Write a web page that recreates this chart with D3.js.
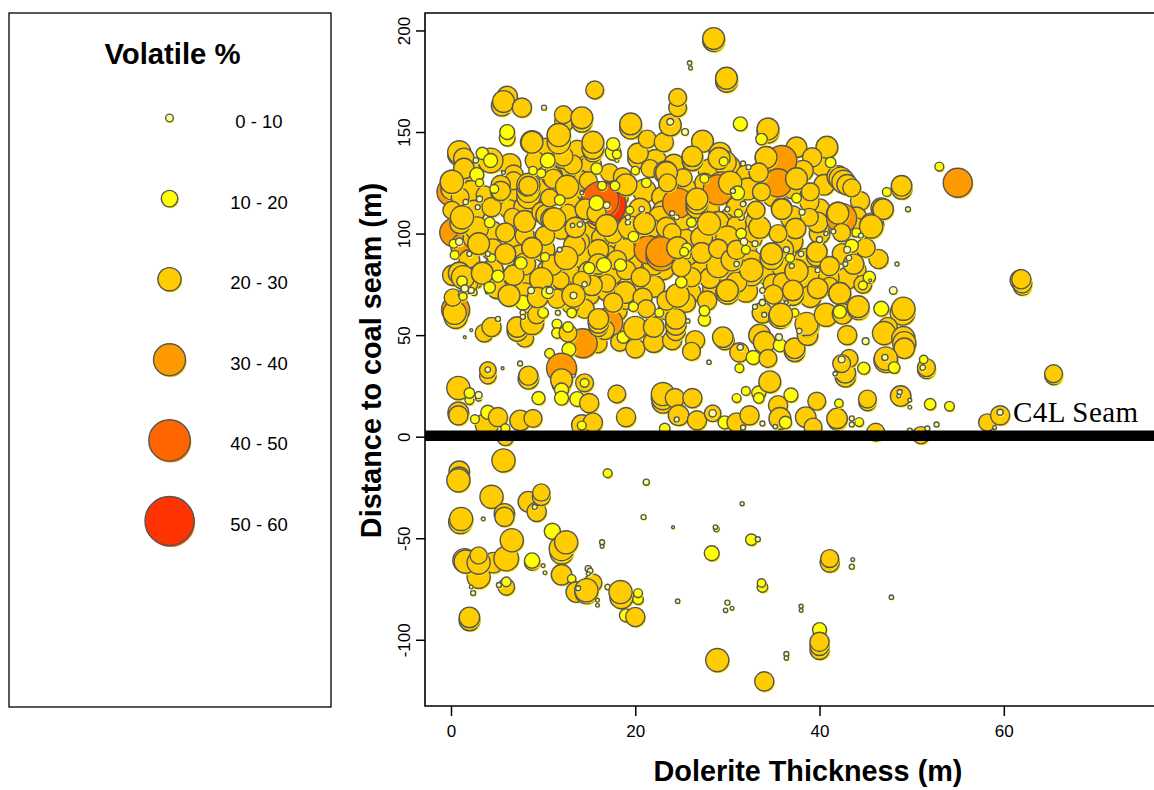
<!DOCTYPE html>
<html>
<head>
<meta charset="utf-8">
<script src="https://cdnjs.cloudflare.com/ajax/libs/d3/7.8.5/d3.min.js"></script>
<style>
body { margin: 0; background: #fff; }
svg { display: block; }
text { font-family: "Liberation Sans", Arial, sans-serif; fill: #000; }
</style>
</head>
<body>
<svg id="chart" width="1154" height="790"></svg>
<script>
// every sample is [dolerite thickness m, distance to seam m, volatile %]
var belowSeam = [
[0.9,-17,23],[0.9,-20,23],[0.8,-21.5,25],[5.7,-11.7,25],[4.4,-29.6,25],[5.8,-38,23],[5.8,-39.5,22],[8.4,-32,23],
[9.3,-37,22],[9.8,-29.5,21],[9.8,-27.5,20.5],[9.1,-34.6,5],[1,-42,25],[1.1,-40.5,25],[3.5,-40.5,3],[11,-46.6,19.5],
[12,-57,25],[12,-55,27],[12.5,-52,25],[16.4,-52,5],[16.4,-54,3],[4.6,-62,23],[3,-69,25],[6,-60,27],[6.6,-51,25],
[1.5,-61,26],[1.6,-61.5,25],[3,-62,25],[3,-58.5,20.5],[8.8,-62,18.5],[8.8,-61,18.5],[10,-63.5,3],[10.2,-67,3],
[12,-68,23],[13.1,-70,10.5],[15.4,-72,21],[13.6,-76.5,23],[14.7,-76.5,25],[14.7,-75.6,25],[13.8,-74.6,5],
[14.9,-65,7],[15.1,-66,6],[14.9,-67.5,3],[17,-74,6],[15.9,-80.5,3],[15.9,-83,3],[18.5,-79,25],[18.4,-76.5,25],
[20.3,-80,13],[20.3,-77,11],[19,-88,16],[20,-88.8,22],[6,-74,20],[6,-71.5,12],[5.2,-73,5],[2.4,-77,5],[2.2,-74,3],
[2,-90.5,23],[2,-89,23],[17,-18,11],[21.2,-22.4,7],[20.9,-39.6,5],[24.1,-44.6,1.5],[31.6,-33,3.5],[28.8,-45.5,6],
[28.7,-44.5,4],[32.6,-50.7,14],[33.3,-50.5,5],[28.3,-57.4,18],[33.8,-74,13],[33.7,-72,10.5],[41.1,-62,22],[41.1,-60,21],
[43.6,-60.5,3],[43.5,-64,5],[47.8,-79,4],[24.6,-81,4],[30,-81.7,5],[29.8,-85.5,4],[30.5,-84.5,3],[38,-83.5,3.5],[38,-85.5,3],
[40,-95,17],[40,-105,22],[40,-103,22],[40,-101,22],[36.4,-107,5],[36.4,-109,4],[28.9,-110,25],[34,-120.5,22]
];
var seamBand = [
[0.8,24,25],[0.8,11,23],[0.8,12,23],[0.8,10.5,22],[2,18,11],[2,21.5,13],[3,19,7],[3,20.5,8.5],[3.9,6,25],[4,12,17],
[5.1,9.6,22],[2.6,8.6,11],[7.5,8,23],[8.9,9,21],[5.9,-0.3,20],[5.9,4.2,11],[4,30,20],[4,32.8,20],[4,33,6],[5.6,33.7,1.5],
[8.4,28.5,23],[8.4,30,22],[7.5,36,5],[9.5,19,16],[12,26,22],[12,28,24],[13.3,30,2],[14.5,26.5,21],[14.5,26.5,11],
[12,23,17],[12,19,17],[13.7,18.5,18],[15,16.5,22],[18,21,21],[19,9.6,22],[14.2,5.7,23],[15.4,7,22],[14.2,5.5,11],
[23,17,24],[23,19,25],[23,21,25],[24.3,19,22],[26.2,19,22],[24.7,10.5,23],[24.5,8.5,5],[26.7,8,22],[23.2,4,13],
[28.4,11.5,20],[28.4,11.5,9],[29.7,7,16],[31,7,22],[32.4,10.5,22],[31,19,11],[32,22.5,11],[33.4,21.5,17],[33.4,19,13],
[34.6,27,24],[35.5,15.5,22],[35.7,9,24],[33.8,6.5,5],[31.7,4.5,5],[35.2,5,4],[36.9,20.5,17],[39.7,17.5,21],[38.5,9.6,23],
[39.3,4.7,21],[41.9,8,22],[41.9,9,23],[44.3,7.2,11],[43.5,9,5],[43.5,6,5],[42.1,16.5,10.5],[36.3,7,15],[45.2,17,20.5],
[45.2,18.5,21],[46.1,2.2,21],[48.8,20,23],[48.7,22,5],[48.6,20,3],[49.8,18,3],[49.8,14.5,3],[52,16,14],[54.1,15,12],
[51,0.7,20.5],[49.8,3,5],[51.7,4,5],[52.7,6,5],[58.2,7,20.5],[59.6,10.5,22],[59.6,12,7],[59,4.5,3],[65.4,30,21],[65.4,31,21],
[51.6,33,21],[51.6,34,21],[51.3,38,10.5],[51.2,34,6]
];
var lowerBand = [
[0.5,62.5,31],[0.5,59,25],[0.4,61,25],[3.6,51,21],[4.4,54,22],[5.1,58,5],[2.2,52.5,1.5],[1.5,49,1.5],
[8,48.5,21],[7.2,52,23],[7.2,54,23],[8.8,56,25],[9.3,60,21],[10,61,13],[7.8,66,18],[7.8,61,6],[7.8,59,5],
[11.5,55.5,12],[11.6,61,5],[13.2,61,11],[11.5,51,13],[15.9,46,22],[14.3,46,32],[12.7,51,21],[12.7,54,13],[12.8,43,17],[10.7,41,12],
[12,33.7,33],[17,56,33],[16.7,52.5,22],[16,54,22],[16,56,23],[16,58,23],[18.3,46.5,21],[18.7,49,15],[20,43.5,22],[20,53.5,25],
[22,46.5,23],[22,54,23],[24,47.5,22],[24.4,52,22],[24.4,55,23],[24.4,58,23],[26.5,47.5,22],[26.1,42,21],[25.7,57,4],[28,36.7,4],
[29.7,47.5,22],[29.5,49,23],[31.3,41.5,22],[31.4,44,7],[31.3,33.7,11],[32.8,39,17],[33.5,50,24],[34,46.5,24],[34.4,38.5,21],
[35.7,45,16],[35.6,49,8],[33.8,61,23],[35.7,59,25],[33.8,72,6],[33.8,66.5,5],[36.4,66,3],[37.3,42,23],[37.3,43.5,23],
[38.7,50,23],[38.7,55,25],[38.6,55.5,25],[37.8,52,6],[43,50,22],[45,47,8],[37.3,61,10.5],[35.8,60,25],[40.7,60,25],
[42.5,60.5,23],[42.2,61.5,16],[44.2,63,24],[44.2,64,24],[46.7,63,18],[49,61,27],[49.1,63,25],[47.4,54,22],[47,51,25],
[49.1,48.5,25],[49.2,46,25],[49.2,43.5,23],[47.2,37.5,26],[47.2,38.5,25],[47.1,39,7],[48.1,34,14],[42.8,29.5,23],[42.8,31.5,23],
[43.2,38.5,21],[42.4,36,21],[42.4,38,8],[41.7,31,4],[44.8,33.7,15],[61.8,77,23],[62,74,21],[62,75.5,22],[61.9,77.5,22],
[0.2,68.5,20.5],[1.2,70,9],[2.5,71,7],[4,71.5,5],[4.2,73.5,14],[6.3,69.5,24],[9.4,68.5,23],[11.5,68,22],[10.5,71,15],
[8.7,72,8],[13.3,69.5,25],[13.3,69.5,8],[17.6,66,22],[19.8,64,12],[20.8,68.5,22],[21.2,63,21],[22.6,61,11],[27.8,67,22],[27.5,57.5,15],
[27.5,62,13],[23.4,67,22],[24.6,69.5,25],[30,71,25],[30,72,24],[33,64,5]
];
var topSamples = [
[28.5,195,24],[28.5,196,24],[25.9,184,4],[26,181.5,3],[29.9,175,24],[29.9,176.5,24],[15.6,170.7,21],[5.5,163,23],[6.1,167.5,23],
[5.7,165,24],[7.7,162,22],[12.3,155,22],[12.2,158.5,21],[14.2,155,23],[14.2,157,24],[24.6,162,21],[24.6,167,21]
];
// the partly hidden orange bubbles come first so the amber mass covers them
var buriedHot = [
[0,120.5,31],[0.3,100.5,31],[1.5,93.5,31],[14.9,92,33]
];
var denseFill = [
[2.1,131,23],[6.4,134,24],[13,131,22],[15.2,134,23],[17.2,130,21],[22.2,136,24],[24.2,134,23],[28.1,131,25],[30.2,133,24],[32,129,22],[36.2,130,23],[40.2,133,22],
[2.2,121,23],[6.6,118,24],[9.6,122,23],[14.1,119,24],[18.2,118,22],[21,121,25],[22.9,118,23],[25.6,122,22],[28.2,119,24],[32.2,122,24],[35,119,25],[37,122,22],[40.5,124,23],[44.4,116,22],
[2.5,111,24],[6.3,112,22],[8,113,24],[13,115,22],[18.3,109,25],[20.5,112,24],[23,111,23],[25,107,25],[28,112,23],[30.5,108,24],[33,106,22],[37,108,25],[40,112,23],[44,108,23],
[2.5,98,24],[4.5,101,23],[7,97,24],[12,103,25],[14.5,100,24],[18,96,23],[20.5,99,25],[25.5,97,23],[28,101,24],[32.5,98,25],[37,96,24],[40,100,23],[44,103,22],
[2,87,23],[4.5,92,24],[7.5,89,24],[10,92,25],[14.5,87,24],[17,89,23],[19.5,86,25],[26,88,24],[28.5,87,23],[32,91,24],[36,92,24],[38.5,87,25],[42.5,90,23],[44,82,22],
[4.5,82,24],[8,79,24],[10.5,82,23],[13,79,25],[15,81,24],[17.5,80,23],[23,83,25],[27,81,24],[29.5,79,23],[34,81,25],[36,83,23],[39,78,25],[43,78,24],
[5,73,23],[8,70,25],[12,73,24],[15,70,23],[17,72,24],[20,72,25],[22,74,24],[26,71,23],[28.5,73,24],[32,72,25],[35,75,23],[39,69,24],[41,78,23],
[14.5,63,22],[18,62,23],[19,68,24],[23.5,62,22],[25.5,66,22],[13,65,21]
];
var denseBack = [
[0.1,122,24],[0.1,125.5,25],[1,118,21],[0.1,111.5,21],[3.7,119,21],[4.4,113,22],
[2.8,102.5,25],[6.8,129,22],[6.8,126,21],[5.4,121,23],[5.4,124,22],[6.7,108,21],[5.9,100.5,22],[8,99,22],[8,106,24],[8.4,118,25],
[8.4,121,25],[8.4,124,25],[8.8,145,25],[10.3,142.5,21],[9.1,136,22],[11,128,23],[12.7,123,25],[10.7,117.5,21],[9.9,110.5,23],
[10.4,109,24],[11,107,25],[12.7,110,21],[13.5,97,21],[10.2,99,22],[11.7,148.5,25],[12.2,137,23],[13.7,141.5,21],[14.3,126,22],
[15.4,140,22],[15.4,142,24],[15.4,145,24],[14.9,126,21],[13.2,134,22],[12.2,138,22],[11.7,145,25],[17,104,21],[15,113,23],[15.8,107,22],
[16.3,98,22],[19.2,103,25],[18.9,92,24],[19,124,24],[18.6,128,21],[19.5,152,24],[19.5,154,24],[20.3,137,23],[20.3,139.5,23],[21.3,146.5,21],
[23.1,145,22],[23.8,153.5,24],[21.6,132,21],[23.3,130,25],[23.5,125,21],[25.2,127.5,21],[27.5,125,22],[26.7,114,24],[26.7,115,24],
[26.2,136,23],[26.2,138,23],[27.3,145.5,24],[29.2,137,24],[29.2,139.5,24],[29.7,135,25],[33.4,130,22],[33.7,120.5,21],[33.1,111.5,21],
[35.9,112.5,23],[34.4,150,24],[34.4,151.5,24],[34.2,137.5,24],[34.8,131,24],[37.5,142.5,23],[40.8,142.5,24],[39.2,137.5,22],[37.5,127,24],
[38.2,131,23],[42,128,24],[42.3,127,25],[42.6,125.5,25],[43,124,23],[43.5,122.5,21],[39,120.5,21],[38.9,115.5,22],[35.9,112,23],
[42,110,24],[42,109,25],[39.8,105.5,23],[38.9,108,21],[37.4,102.5,23],[33.5,103,24],[35.5,100,21],[45.7,104.5,25],[45.6,103.5,25],
[46.7,112.5,23],[46.9,112,23],[42.4,100.5,21],[45,93,21],[46.4,87.5,22],[48.9,122,23],[48.9,123.5,23],[22.7,107.5,26],[21.9,102.5,21],
[23.4,103,23],[24,100.5,21],[27.2,98,24],[29,105.5,24],[31,104,22],[30,98,25],[16,92,23],[14,96,22],[21,95,23],[24.6,93,24],[27.2,90.5,23],
[29,92.5,22],[30.5,87,24],[28.1,78,23],[26.1,78.5,22],[32.6,80,25],[32.6,82,25],[32.6,84,25],[32.6,86,25],[34.8,88,25],[34.8,90,24],
[37.5,81.5,25],[39.7,89,23],[39.7,91,23],[41.1,84,22],[41.1,74,21],[42.2,70.5,24],[37.1,70,24],[37.1,72,23],[39.8,73,23],[36,76,22],
[25,83.5,22],[20.6,78.5,22],[18.9,71,24],[16.9,75.5,21],[15.3,74.5,23],[14.2,77,21],[11.9,77,20.5],[9.8,77.5,25],[11,84.5,23],[12.5,88,25],
[13.4,94,24],[8.8,93,23],[5.9,90,23],[6.8,79.5,23],[3.4,80.5,24],[2.4,78,24],[1.8,75.5,23],[1.3,78.5,25],[0.9,80.5,24],[0.2,79.5,23],[45,93,22],
[43.7,85,23],[44.7,75,21],[22,85,24],[24,88,22],[16,85,23],[19,82,22],[29,84,25],[31,76,23],[35,70,22],[8,85,24],[3,95,24],[1,105,23]
];
var hotSamples = [
[16.5,114.5,50.5],[16.2,116.5,40.5],[35.9,136,33],[35.5,125,31],[29.4,123,33],[29,121.5,33],[24.6,115,33],[42.4,107.5,33],[21.4,92,31],[22.8,89,33],[22.8,91,33],[55,125,32]
];
var denseFront = [
[0.9,139,25],[0.9,140,25],[1.4,137,23],[1.4,132,23],[0.1,125.5,25],[1.2,108,25],[4.3,136,27],[5.4,121,22],[8.4,123.5,22],[8.8,145,24],
[11.7,148.5,25],[11.1,127,22],[12.6,123,25],[10.7,117.5,21],[11.2,107,25],[14.6,112,23],[15.8,110,22],[17.6,100,22],[19.4,103,25],[19,124,24],
[23.4,130,24],[23.5,125,21],[26.7,113,24],[26.7,115,24],[26.7,117,24],[26.2,138,23],[30.3,125,25],[29.1,137,24],[34.2,137.5,24],[33.4,130,22],
[33.7,120.5,21],[33.1,111.5,21],[37.5,127,24],[39,120.5,21],[35.9,112,23],[34.8,90,24],[32.6,82,25],[37.5,81.5,25],[39.7,91,23],[41.1,84,22],
[37.1,72,23],[42.2,70.5,24],[42,110,24],[42.4,100.5,21],[46.9,112,23],[45.6,103.5,25],[20.6,78.5,22],[25,83.5,22],[24.6,69.5,25],[9.8,77.5,25],
[12.5,88,25],[8.8,93,23],[6.8,79.5,23],[0.9,80.5,24],[1.3,78.5,25],[3.4,80.5,24],[27.2,90.5,23],[29,92.5,22],[30.5,87,24],[24.6,93,24],
[16.9,104,24],[13.5,103,23],[21,105,24],[28,105,25],[31,113,23],[31,92,22],[18,87,22]
];
var smallPoints = [
[3.4,139.5,15],[2.7,136,6],[4.3,136,17],[2.8,129,17],[3.1,125,10],[4.7,122,11],[1.6,115.5,6],[3.1,117,7],[2.9,113,5],[6.1,147,19],[6.1,150,18],
[5.7,130,3],[10.5,136,18],[9.8,129.7,11],[8.9,131,10.5],[11.8,116.5,13],[4.2,105.5,13],[14.2,120,3],[14,104.5,6],[13.2,104,4],[15.8,132,14],
[17.6,140,19],[17.6,144,16],[18,136,3],[18,139,11],[10.1,162,5],[16.4,123.5,11],[17.8,123.5,12],[15.8,115,18],[16.9,114,8],[19.4,111.5,10],
[20.7,112,6],[19.2,105.5,5],[19.2,108,5],[20,131,10.5],[21.2,125,12],[23.8,155,8],[25.4,150,8],[27.5,127,11],[29.6,135.5,11],[31.4,154,17],
[33.7,146.5,14],[31.7,134.5,5],[32.3,132.7,5],[31.1,120,17],[30.6,121,5],[31.7,114.5,6],[26.1,105.5,12],[24.5,108,5],[31.5,108,7],[41.2,135,13],
[37.5,117.5,12],[38.1,110.5,7],[44,100.5,11],[44.5,99,5],[41.5,101,5],[40.7,100,4],[43.5,94,16],[47.3,120.5,11],[53,133,11],[49.6,112,5],
[45.4,78.5,15],[44.7,74.5,11],[48.4,85,3.5],[48,72,9.5],[39.8,82,5],[40,97,7],[45.5,77,1.5],
[0.3,95,11],[0.4,89.5,11],[1.2,76.5,13],[1.5,73,9],[1.3,69,10],[2.2,72,7],[4.4,88,10.5],[4,90,5],[2,90,5],[5.1,79,15],[7.6,85.5,15],
[10.2,88.5,11],[11.8,92,5],[14.5,75,6],[10.7,72,8],[13.1,61,12],[16.6,84.5,18],[18.4,84.5,15],[15,83,14],[19.8,98.5,13],[19.8,64,12],
[25.6,89.5,10],[25.6,93,12],[25.3,91,11],[25,76,14],[33.8,66,7],[34,60,5],[38,90,6],[33,95,7],[31,85,6],[30,112,5],[0.9,96,9],[24,110,5],
[36.4,92,7],[36.8,88,11],[37,84,5],[43,92,8],[43.2,88,6],[42.8,85,5],[31.5,100,13],[31.8,96,9],[32,92,11],[31.2,110,10]
];

var volatileClasses = ["0 - 10", "10 - 20", "20 - 30", "30 - 40", "40 - 50", "50 - 60"];
var classStops = [10, 20, 30, 40, 50];
var classFill = ["#ffff99", "#ffff00", "#ffcc00", "#ff9900", "#ff6600", "#ff3300"];
var classEdge = ["#ffff44", "#ffdd00", "#ffe600", "#ffcc00", "#ff8800", "#ff5500"];
var legendVolatile = [9.5, 19.9, 25, 35, 45.5, 55];
var xTicks = [0, 20, 40, 60];
var yTicks = [-100, -50, 0, 50, 100, 150, 200];

var samples = [].concat(buriedHot, denseFill, denseBack, topSamples, hotSamples, denseFront, lowerBand, seamBand, smallPoints, belowSeam);

var svg = d3.select("#chart");

var x = d3.scaleLinear().domain([-2.82, 76.3]).range([425, 1154]);
var y = d3.scaleLinear().domain([-132.6, 208.6]).range([706, 13]);
var radius = d3.scaleLinear()
    .domain([0, 10, 20, 25, 30, 35, 45, 55, 60])
    .range([1, 4, 8.3, 11.6, 13.5, 16, 20.5, 24.5, 26]);
var classIndex = d3.scaleThreshold().domain(classStops).range([0, 1, 2, 3, 4, 5]);

function drawBubble(sel) {
    sel.append("circle")
        .attr("cx", 1.1)
        .attr("cy", 1.5)
        .attr("r", d => d.r)
        .attr("fill", d => classEdge[classIndex(d.v)]);
    sel.append("circle")
        .attr("r", d => d.r)
        .attr("fill", d => classFill[classIndex(d.v)])
        .attr("stroke", "#555")
        .attr("stroke-width", 1.4);
}

var clip = svg.append("clipPath").attr("id", "plot-clip");
clip.append("rect").attr("x", 425).attr("y", 13).attr("width", 729).attr("height", 693);

svg.append("g")
    .attr("clip-path", "url(#plot-clip)")
    .selectAll("g")
    .data(samples.map(s => ({ t: s[0], d: s[1], v: s[2], r: radius(s[2]) })))
    .join("g")
    .attr("transform", d => "translate(" + x(d.t) + "," + y(d.d) + ")")
    .call(drawBubble);

// seam line and its label sit above the bubbles
svg.append("line")
    .attr("x1", 425).attr("x2", 1154)
    .attr("y1", y(0) - 1).attr("y2", y(0) - 1)
    .attr("stroke", "#000")
    .attr("stroke-width", 10.5);

svg.append("text")
    .attr("x", 1013).attr("y", 422)
    .attr("textLength", 125)
    .style("font-family", "'Liberation Serif', serif")
    .style("font-size", "29px")
    .text("C4L Seam");

// plot frame, open on the right because the page cuts it off
svg.append("path")
    .attr("d", "M1154,13H425V706H1154")
    .attr("fill", "none")
    .attr("stroke", "#000")
    .attr("stroke-width", 1.6);

var xAxis = svg.append("g")
    .attr("transform", "translate(0,706)")
    .call(d3.axisBottom(x).tickValues(xTicks).tickSize(10).tickPadding(9));
var yAxis = svg.append("g")
    .attr("transform", "translate(425,0)")
    .call(d3.axisLeft(y).tickValues(yTicks).tickFormat(d => String(d)).tickSize(9).tickPadding(6));

xAxis.select(".domain").remove();
yAxis.select(".domain").remove();
xAxis.selectAll("line").attr("stroke", "#000").attr("stroke-width", 1.5);
yAxis.selectAll("line").attr("stroke", "#000").attr("stroke-width", 1.5);
xAxis.selectAll("text").style("font-size", "17px");
yAxis.selectAll("text")
    .style("font-size", "17px")
    .attr("text-anchor", "middle")
    .attr("dy", 0)
    .attr("x", 0)
    .attr("transform", "translate(-15,0) rotate(-90)");

svg.append("text")
    .attr("x", 808).attr("y", 781)
    .attr("text-anchor", "middle")
    .style("font-size", "28.8px")
    .style("font-weight", "bold")
    .text("Dolerite Thickness (m)");

svg.append("text")
    .attr("transform", "translate(381,360.5) rotate(-90)")
    .attr("text-anchor", "middle")
    .style("font-size", "28.8px")
    .style("font-weight", "bold")
    .text("Distance to coal seam (m)");

// legend panel
svg.append("rect")
    .attr("x", 9).attr("y", 13)
    .attr("width", 322).attr("height", 694)
    .attr("fill", "none")
    .attr("stroke", "#000")
    .attr("stroke-width", 1.3);

svg.append("text")
    .attr("x", 172.5).attr("y", 64)
    .attr("text-anchor", "middle")
    .style("font-size", "29.3px")
    .style("font-weight", "bold")
    .text("Volatile %");

var legendY = d3.scalePoint().domain(volatileClasses).range([118, 521]);

var legendRow = svg.append("g")
    .selectAll("g")
    .data(volatileClasses.map((c, i) => ({ label: c, v: legendVolatile[i], r: radius(legendVolatile[i]) })))
    .join("g")
    .attr("transform", d => "translate(169.5," + legendY(d.label) + ")");

legendRow.call(drawBubble);

legendRow.append("text")
    .attr("x", 89.5)
    .attr("y", 10)
    .attr("text-anchor", "middle")
    .style("font-size", "18.5px")
    .text(d => d.label);
</script>
</body>
</html>
